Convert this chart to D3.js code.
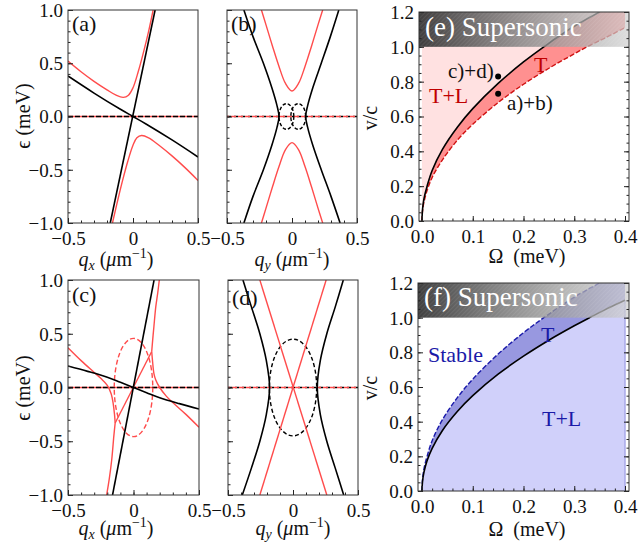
<html>
<head>
<script src="https://d3js.org/d3.v7.min.js"></script>
<style>
body { margin: 0; background: #fff; }
text { font-family: "Liberation Serif", "DejaVu Serif", serif; }
</style>
</head>
<body>
<svg width="638" height="543" font-family="Liberation Serif, DejaVu Serif, serif"></svg>
<script>
// tick labels
var epsTicks = [-1, -0.5, 0, 0.5, 1];
var qTicks = [-0.5, 0, 0.5];
var vTicks = [0, 0.2, 0.4, 0.6, 0.8, 1.0, 1.2];
var omegaTicks = [0, 0.1, 0.2, 0.3, 0.4];

var zeroLine = [[-0.5, 0], [0.5, 0]];

// (a) q_x cut
var aSteep = [[-0.175, -1], [0.17, 1]];
var aShallow = [[-0.5, 0.38], [-0.3, 0.22], [-0.1, 0.07], [0, 0], [0.1, -0.07], [0.3, -0.22], [0.5, -0.38]];
var aRedUpper = [[-0.5, 0.52], [-0.4, 0.42], [-0.3, 0.33], [-0.2, 0.25], [-0.13, 0.2], [-0.075, 0.18], [-0.035, 0.2], [0, 0.27], [0.04, 0.42], [0.08, 0.6], [0.12, 0.8], [0.155, 1.0]];
var aRedLower = [[0.5, -0.6], [0.4, -0.48], [0.3, -0.37], [0.2, -0.27], [0.12, -0.2], [0.066, -0.178], [0.03, -0.2], [0, -0.27], [-0.04, -0.42], [-0.08, -0.6], [-0.12, -0.8], [-0.158, -1.0]];

// (b) q_y cut
var bBlackLeft = [[-0.37, 1], [-0.3, 0.75], [-0.22, 0.5], [-0.155, 0.27], [-0.115, 0.1], [-0.1, 0], [-0.115, -0.1], [-0.155, -0.27], [-0.22, -0.5], [-0.3, -0.75], [-0.37, -1]];
var bBlackRight = [[0.36, 1], [0.295, 0.75], [0.225, 0.5], [0.16, 0.27], [0.12, 0.1], [0.105, 0], [0.12, -0.1], [0.16, -0.27], [0.225, -0.5], [0.3, -0.75], [0.37, -1]];
var bRedUpper = [[-0.235, 1], [-0.2, 0.86], [-0.15, 0.66], [-0.1, 0.47], [-0.05, 0.31], [0, 0.24], [0.05, 0.31], [0.1, 0.47], [0.15, 0.66], [0.2, 0.86], [0.236, 1]];
var bRedLower = [[-0.235, -1], [-0.2, -0.86], [-0.15, -0.66], [-0.1, -0.47], [-0.05, -0.31], [0, -0.245], [0.05, -0.31], [0.1, -0.47], [0.15, -0.66], [0.2, -0.86], [0.236, -1]];
var bLoops = [{cx: -0.043, rx: 0.057, ry: 0.12}, {cx: 0.048, rx: 0.057, ry: 0.12}];

// (c) q_x cut
var cSteep = [[-0.16, -1], [0.157, 1]];
var cShallow = [[-0.5, 0.2], [-0.35, 0.15], [-0.2, 0.095], [-0.1, 0.048], [0, 0], [0.1, -0.048], [0.2, -0.095], [0.35, -0.15], [0.5, -0.2]];
var cRedLeft = [[-0.5, 0.37], [-0.4, 0.25], [-0.3, 0.14], [-0.25, 0.085], [-0.2, 0.02], [-0.17, -0.06], [-0.155, -0.15], [-0.145, -0.25], [-0.14, -0.33]];
var cRedLeftDown = [[-0.14, -0.33], [-0.15, -0.45], [-0.166, -0.67], [-0.185, -0.85], [-0.205, -1]];
var cRedDiag = [[-0.14, -0.33], [0.139, 0.335]];
var cRedRight = [[0.5, -0.37], [0.4, -0.25], [0.3, -0.14], [0.25, -0.08], [0.2, 0], [0.17, 0.07], [0.156, 0.13], [0.145, 0.25], [0.139, 0.335]];
var cRedRightUp = [[0.139, 0.335], [0.147, 0.45], [0.156, 0.57], [0.17, 0.75], [0.185, 0.88], [0.197, 1]];
var cEllipse = {cx: 0, rx: 0.147, ry: 0.457};

// (d) q_y cut
var dBlackLeft = [[-0.385, 1], [-0.32, 0.75], [-0.255, 0.5], [-0.205, 0.25], [-0.18, 0], [-0.205, -0.25], [-0.255, -0.5], [-0.32, -0.75], [-0.39, -1]];
var dBlackRight = [[0.387, 1], [0.325, 0.75], [0.26, 0.5], [0.21, 0.25], [0.187, 0], [0.21, -0.25], [0.26, -0.5], [0.325, -0.75], [0.39, -1]];
var dRed1 = [[-0.255, 1], [0.26, -1]];
var dRed2 = [[0.255, 1], [-0.255, -1]];
var dEllipse = {cx: 0, rx: 0.182, ry: 0.45};

// (e) phase diagram
var eBlack = [[0, 0], [0.001, 0.065], [0.004, 0.13], [0.01, 0.2], [0.02, 0.29], [0.04, 0.41], [0.07, 0.54], [0.1, 0.645], [0.15, 0.79], [0.2, 0.913], [0.24, 1.0], [0.3, 1.118], [0.35, 1.2]];
var eRed = [[0, 0], [0.001, 0.055], [0.004, 0.11], [0.01, 0.175], [0.02, 0.25], [0.04, 0.35], [0.07, 0.465], [0.1, 0.555], [0.15, 0.68], [0.2, 0.785], [0.25, 0.877], [0.3, 0.96], [0.325, 1.0], [0.36, 1.05], [0.4, 1.11]];
var eDots = [[0.15, 0.83], [0.15, 0.73]];

// (f) phase diagram
var fBlack = [[0, 0], [0.001, 0.055], [0.004, 0.11], [0.01, 0.174], [0.02, 0.246], [0.04, 0.348], [0.07, 0.46], [0.1, 0.55], [0.15, 0.674], [0.2, 0.778], [0.25, 0.87], [0.3, 0.953], [0.33, 1.0], [0.36, 1.045], [0.4, 1.10]];
var fBlue = [[0, 0], [0.001, 0.065], [0.004, 0.13], [0.01, 0.2], [0.02, 0.29], [0.04, 0.41], [0.07, 0.54], [0.1, 0.645], [0.15, 0.79], [0.2, 0.913], [0.24, 1.0], [0.3, 1.118], [0.35, 1.2]];

var RED = "#ff4c4c";
var SERIF = "Liberation Serif, DejaVu Serif, serif";
var svg = d3.select("svg");
var defs = svg.append("defs");

var grad = defs.append("linearGradient").attr("id", "sgrad");
grad.append("stop").attr("offset", "0%").attr("stop-color", "#363636").attr("stop-opacity", 0.95);
grad.append("stop").attr("offset", "55%").attr("stop-color", "#8a8a8a").attr("stop-opacity", 0.8);
grad.append("stop").attr("offset", "100%").attr("stop-color", "#cfcfcf").attr("stop-opacity", 0.7);
var pat = defs.append("pattern").attr("id", "hatch").attr("width", 3).attr("height", 3)
    .attr("patternUnits", "userSpaceOnUse").attr("patternTransform", "rotate(45)");
pat.append("line").attr("x1", 0).attr("y1", 0).attr("x2", 0).attr("y2", 3)
    .attr("stroke", "#fff").attr("stroke-opacity", 0.15).attr("stroke-width", 1);

var nClip = 0;
function makePanel(p) {
  var g = svg.append("g");
  var x = d3.scaleLinear().domain(p.xd).range(p.xr);
  var y = d3.scaleLinear().domain(p.yd).range(p.yr);
  var id = "clip" + (nClip++);
  defs.append("clipPath").attr("id", id).append("rect")
      .attr("x", p.fx0).attr("y", p.fy0).attr("width", p.fx1 - p.fx0).attr("height", p.fy1 - p.fy0);
  var body = g.append("g").attr("clip-path", "url(#" + id + ")");
  var line = d3.line().x(function (d) { return x(d[0]); }).y(function (d) { return y(d[1]); })
      .curve(d3.curveCatmullRom);
  return {g: g, body: body, x: x, y: y, line: line, p: p};
}

function curve(P, pts, color, w, dash) {
  var s = P.body.append("path").attr("d", P.line(pts)).attr("fill", "none")
      .attr("stroke", color).attr("stroke-width", w);
  if (dash) s.attr("stroke-dasharray", dash);
  return s;
}

function ellipse(P, e, color, dash) {
  P.body.append("ellipse")
      .attr("cx", P.x(e.cx)).attr("cy", P.y(0))
      .attr("rx", P.x(e.cx + e.rx) - P.x(e.cx)).attr("ry", P.y(0) - P.y(e.ry))
      .attr("fill", "none").attr("stroke", color).attr("stroke-width", 1.4).attr("stroke-dasharray", dash);
}

function frame(P, o) {
  var p = P.p;
  function clean(sel) {
    sel.select(".domain").remove();
    sel.attr("font-size", null).attr("font-family", SERIF).attr("color", "#222");
    sel.selectAll("text").attr("font-size", 19).attr("font-family", SERIF).attr("fill", "#111");
  }
  var gy = P.g.append("g").attr("transform", "translate(" + p.fx0 + ",0)")
      .call(d3.axisLeft(P.y).tickValues(o.yMajor).tickSizeInner(-5).tickSizeOuter(0).tickPadding(5).tickFormat(o.yLabels ? o.yFmt : ""));
  clean(gy);
  gy.selectAll("text").attr("dy", "0.34em");
  clean(P.g.append("g").attr("transform", "translate(" + p.fx0 + ",0)")
      .call(d3.axisLeft(P.y).tickValues(o.yMinor).tickSizeInner(-2.5).tickSizeOuter(0).tickFormat("")));
  var gx = P.g.append("g").attr("transform", "translate(0," + p.fy1 + ")")
      .call(d3.axisBottom(P.x).tickValues(o.xMajor).tickSizeInner(-5).tickSizeOuter(0).tickPadding(9).tickFormat(o.xFmt));
  clean(gx);
  gx.selectAll("text").attr("dy", "0.71em");
  clean(P.g.append("g").attr("transform", "translate(0," + p.fy1 + ")")
      .call(d3.axisBottom(P.x).tickValues(o.xMinor).tickSizeInner(-2.5).tickSizeOuter(0).tickFormat("")));
  if (o.right) {
    clean(P.g.append("g").attr("transform", "translate(" + p.fx1 + ",0)")
        .call(d3.axisRight(P.y).tickValues(o.yMajor).tickSizeInner(-5).tickSizeOuter(0).tickFormat("")));
    clean(P.g.append("g").attr("transform", "translate(" + p.fx1 + ",0)")
        .call(d3.axisRight(P.y).tickValues(o.yMinor).tickSizeInner(-2.5).tickSizeOuter(0).tickFormat("")));
  }
  P.g.append("rect").attr("x", p.fx0).attr("y", p.fy0).attr("width", p.fx1 - p.fx0).attr("height", p.fy1 - p.fy0)
      .attr("fill", "none").attr("stroke", "#333").attr("stroke-width", 1);
}

var f1 = d3.format(".1f");
var qFmt = function (d) { return d === 0 ? "0" : f1(d); };
var minorEps = d3.range(-1, 1.001, 0.1);
var minorQ = d3.range(-0.5, 0.501, 0.1);
var dispOpts = {yMajor: epsTicks, yMinor: minorEps, xMajor: qTicks, xMinor: minorQ, xFmt: qFmt, yFmt: f1};

function label(g, x, y, txt, size, color, anchor) {
  return g.append("text").attr("x", x).attr("y", y).attr("font-size", size).attr("font-family", SERIF)
      .attr("fill", color || "#111").attr("text-anchor", anchor || "start").text(txt);
}

function qLabel(cx, y, sub) {
  var t = svg.append("text").attr("x", cx).attr("y", y).attr("font-size", 20).attr("fill", "#111")
      .attr("font-family", SERIF).attr("text-anchor", "middle");
  t.append("tspan").attr("font-style", "italic").text("q");
  t.append("tspan").attr("font-style", "italic").attr("font-size", 14).attr("dy", 4).text(sub);
  t.append("tspan").attr("dy", -4).text(" (");
  t.append("tspan").attr("font-style", "italic").text("μ");
  t.append("tspan").text("m");
  t.append("tspan").attr("font-size", 14).attr("dy", -8).text("−1");
  t.append("tspan").attr("dy", 8).text(")");
}

function epsLabel(cy) {
  svg.append("text").attr("transform", "translate(30," + cy + ") rotate(-90)").attr("font-family", SERIF)
      .attr("text-anchor", "middle").attr("font-size", 20).attr("fill", "#111").text("ϵ (meV)");
}

// ---------- (a) ----------
var A = makePanel({xd: [-0.5, 0.5], xr: [68, 198], yd: [-1, 1], yr: [223, 10], fx0: 68, fx1: 198, fy0: 10, fy1: 223});
curve(A, zeroLine, RED, 1.4);
curve(A, zeroLine, "#000", 1.6, "5,2");
curve(A, aRedUpper, RED, 1.4);
curve(A, aRedLower, RED, 1.4);
curve(A, aShallow, "#000", 1.6);
curve(A, aSteep, "#000", 1.6);
frame(A, Object.assign({yLabels: true}, dispOpts));
label(A.g, 72, 31, "(a)", 22);

// ---------- (b) ----------
var B = makePanel({xd: [-0.5, 0.5], xr: [227, 357], yd: [-1, 1], yr: [223, 10], fx0: 227, fx1: 357, fy0: 10, fy1: 223});
curve(B, zeroLine, "#000", 1.5, "4,3");
curve(B, zeroLine, RED, 1.5, "5,2").attr("stroke-dashoffset", 3);
bLoops.forEach(function (e) { ellipse(B, e, "#000", "3.5,2"); });
curve(B, bRedUpper, RED, 1.4);
curve(B, bRedLower, RED, 1.4);
curve(B, bBlackLeft, "#000", 1.6);
curve(B, bBlackRight, "#000", 1.6);
frame(B, Object.assign({yLabels: false}, dispOpts));
label(B.g, 231, 31, "(b)", 22);

// ---------- (c) ----------
var C = makePanel({xd: [-0.5, 0.5], xr: [68, 199], yd: [-1, 1], yr: [495, 280], fx0: 68, fx1: 199, fy0: 280, fy1: 495});
curve(C, zeroLine, RED, 1.4);
curve(C, zeroLine, "#000", 1.6, "5,2");
ellipse(C, cEllipse, RED, "5,2.5");
[cRedLeft, cRedLeftDown, cRedDiag, cRedRight, cRedRightUp].forEach(function (c) { curve(C, c, RED, 1.4); });
curve(C, cShallow, "#000", 1.6);
curve(C, cSteep, "#000", 1.6);
frame(C, Object.assign({yLabels: true}, dispOpts));
label(C.g, 72, 302, "(c)", 22);

// ---------- (d) ----------
var D = makePanel({xd: [-0.5, 0.5], xr: [228, 358], yd: [-1, 1], yr: [495, 280], fx0: 228, fx1: 358, fy0: 280, fy1: 495});
curve(D, zeroLine, "#000", 1.5, "4,3");
curve(D, zeroLine, RED, 1.5, "5,2").attr("stroke-dashoffset", 3);
ellipse(D, dEllipse, "#000", "4,2.5");
curve(D, dRed1, RED, 1.4);
curve(D, dRed2, RED, 1.4);
curve(D, dBlackLeft, "#000", 1.6);
curve(D, dBlackRight, "#000", 1.6);
frame(D, Object.assign({yLabels: false}, dispOpts));
label(D.g, 232, 305, "(d)", 22);

epsLabel(116);
epsLabel(388);
qLabel(116, 266, "x");
qLabel(292, 266, "y");
qLabel(116, 535, "x");
qLabel(293, 535, "y");

// ---------- phase diagrams ----------
var phaseOpts = {yMajor: vTicks, yMinor: d3.range(0, 1.201, 0.05), xMajor: omegaTicks, xMinor: d3.range(0, 0.401, 0.02),
  xFmt: f1, yFmt: f1, yLabels: true, right: true};

function seg(P, pts) { return P.line(pts).replace(/^M/, "L"); }
function pt(P, a, b) { return P.x(a) + "," + P.y(b); }

function superBox(P, letter, base) {
  var p = P.p, y0 = P.y(1.2), y1 = P.y(1.0);
  P.g.append("rect").attr("x", p.fx0).attr("y", y0).attr("width", p.fx1 - p.fx0).attr("height", y1 - y0).attr("fill", "url(#sgrad)");
  P.g.append("rect").attr("x", p.fx0).attr("y", y0).attr("width", p.fx1 - p.fx0).attr("height", y1 - y0).attr("fill", "url(#hatch)");
  label(P.g, p.fx0 + 6, base, "(" + letter + ") Supersonic", 27, "#fff");
}

// ---------- (e) ----------
var E = makePanel({xd: [0, 0.4], xr: [422, 625], yd: [0, 1.2], yr: [221, 12], fx0: 419, fx1: 629, fy0: 12, fy1: 221});
E.body.append("path").attr("fill", "#ffe1e1")
    .attr("d", "M" + pt(E, 0, 0) + seg(E, eBlack) + "L" + pt(E, 0, 1.2) + "Z");
E.body.append("path").attr("fill", "#ff9090")
    .attr("d", "M" + pt(E, 0, 0) + seg(E, eBlack) + "L" + pt(E, 0.4, 1.2) + seg(E, eRed.slice().reverse()) + "Z");
curve(E, eRed, "#d01010", 1.4, "5,2");
curve(E, eBlack, "#000", 1.6);
superBox(E, "e", 36);
E.g.selectAll("circle.pt").data(eDots).enter().append("circle").attr("class", "pt")
    .attr("cx", function (d) { return E.x(d[0]); }).attr("cy", function (d) { return E.y(d[1]); })
    .attr("r", 3).attr("fill", "#000");
label(E.g, 448, 78, "c)+d)", 21);
label(E.g, 507, 110, "a)+b)", 21);
label(E.g, 429, 103, "T+L", 22, "#c00000");
label(E.g, 534, 72, "T", 22, "#c00000");
frame(E, phaseOpts);

// ---------- (f) ----------
var F = makePanel({xd: [0, 0.4], xr: [422, 625], yd: [0, 1.2], yr: [491, 283], fx0: 418, fx1: 629, fy0: 283, fy1: 491});
F.body.append("path").attr("fill", "#d0d0fa")
    .attr("d", "M" + pt(F, 0, 0) + seg(F, fBlack) + "L" + pt(F, 0.4, 0) + "Z");
F.body.append("path").attr("fill", "#9898e0")
    .attr("d", "M" + pt(F, 0, 0) + seg(F, fBlue) + "L" + pt(F, 0.4, 1.2) + "L" + pt(F, 0.4, 1.1) + seg(F, fBlack.slice().reverse()) + "Z");
F.body.append("line").attr("x1", F.x(0.4)).attr("x2", F.x(0.4)).attr("y1", F.y(0)).attr("y2", F.y(1.1))
    .attr("stroke", "#a8a8e8").attr("stroke-width", 1.5);
curve(F, fBlue, "#1a1aaa", 1.4, "5,2");
curve(F, fBlack, "#000", 1.6);
superBox(F, "f", 306);
label(F.g, 428, 362, "Stable", 22, "#1a1aa8");
label(F.g, 541, 342, "T", 22, "#1a1aa8");
label(F.g, 542, 426, "T+L", 22, "#1a1aa8");
frame(F, phaseOpts);

function vLabel(cy) {
  svg.append("text").attr("transform", "translate(377," + cy + ") rotate(-90)").attr("font-family", SERIF)
      .attr("text-anchor", "middle").attr("font-size", 20).attr("fill", "#111").text("v/c");
}
vLabel(118);
vLabel(388);
function omegaLabel(y) {
  svg.append("text").attr("x", 527).attr("y", y).attr("text-anchor", "middle").attr("font-size", 20)
      .attr("font-family", SERIF).attr("fill", "#111").attr("xml:space", "preserve").text("Ω  (meV)");
}
omegaLabel(263);
omegaLabel(536);
</script>
</body>
</html>
